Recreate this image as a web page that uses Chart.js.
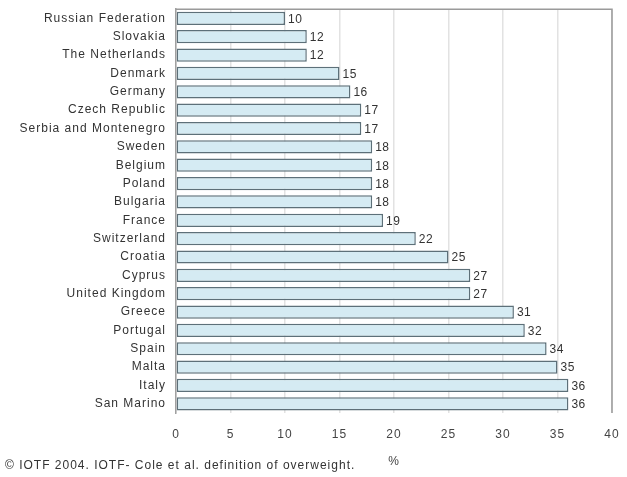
<!DOCTYPE html>
<html><head><meta charset="utf-8">
<script src="https://cdn.jsdelivr.net/npm/chart.js@4/dist/chart.umd.min.js"></script>
<style>html,body{margin:0;padding:0;background:#fff}#w{width:627px;height:477px}</style>
</head><body><div id="w"><canvas id="c"></canvas></div>
<script>
const countries = ["Russian Federation","Slovakia","The Netherlands","Denmark","Germany","Czech Republic","Serbia and Montenegro","Sweden","Belgium","Poland","Bulgaria","France","Switzerland","Croatia","Cyprus","United Kingdom","Greece","Portugal","Spain","Malta","Italy","San Marino"];
const overweight = [10,12,12,15,16,17,17,18,18,18,18,19,22,25,27,27,31,32,34,35,36,36];
const xTicks = [0,5,10,15,20,25,30,35,40];
const axisTitle = "%";
const footer = "\u00a9 IOTF 2004. IOTF- Cole et al. definition of overweight.";

const FONT = "'Liberation Sans', Arial, sans-serif";
const extras = {
  id: 'extras',
  beforeDraw(chart) {
    chart.ctx.letterSpacing = '1px';
  },
  beforeDatasetsDraw(chart) {
    const {ctx, chartArea: a} = chart;
    ctx.save();
    ctx.strokeStyle = '#9a9a9a';
    ctx.lineWidth = 1.5;
    ctx.beginPath();
    ctx.moveTo(a.left, a.top); ctx.lineTo(a.right, a.top); ctx.lineTo(a.right, a.bottom);
    ctx.stroke();
    ctx.restore();
  },
  afterDatasetsDraw(chart) {
    const {ctx} = chart;
    const meta = chart.getDatasetMeta(0);
    ctx.save();
    ctx.letterSpacing = '0.5px';
    ctx.font = '12px ' + FONT;
    ctx.fillStyle = '#333';
    ctx.textBaseline = 'middle';
    ctx.textAlign = 'left';
    meta.data.forEach((bar, i) => {
      ctx.fillText(String(overweight[i]), bar.x + 3, bar.y + 1);
    });
    ctx.letterSpacing = '1px';
    ctx.font = '12px ' + FONT;
    ctx.fillText(footer, 5, 466);
    ctx.restore();
  }
};

new Chart(document.getElementById('c'), {
  type: 'bar',
  data: { labels: countries, datasets: [{
    data: overweight,
    backgroundColor: '#d5ebf3',
    borderColor: '#5d7079',
    borderWidth: 1.5,
    borderSkipped: false,
    categoryPercentage: 1,
    barPercentage: 0.72
  }]},
  options: {
    indexAxis: 'y',
    responsive: true,
    maintainAspectRatio: false,
    animation: false,
    devicePixelRatio: 1,
    layout: { padding: { top: 0, right: 15, left: 0, bottom: 0 } },
    plugins: { legend: { display: false }, tooltip: { enabled: false } },
    scales: {
      x: {
        min: 0, max: 40,
        afterBuildTicks(s) { s.ticks = xTicks.map(v => ({value: v})); },
        afterFit(s) { s.height = 64; s.paddingRight = 0; s.paddingLeft = 0; },
        grid: { color: '#e2e2e2', drawTicks: false, lineWidth: 1.5 },
        border: { display: false },
        ticks: { padding: 14, color: '#444', font: { family: FONT, size: 12 } },
        title: { display: true, text: axisTitle, color: '#444', font: { family: FONT, size: 12 }, padding: { top: 10, bottom: 8 } }
      },
      y: {
        afterFit(s) { s.width = 176; },
        grid: { display: false },
        border: { display: true, color: '#a0a0a0', width: 1.5 },
        ticks: { padding: 2, color: '#333', font: { family: FONT, size: 12 }, autoSkip: false }
      }
    }
  },
  plugins: [extras]
});
</script></body></html>
